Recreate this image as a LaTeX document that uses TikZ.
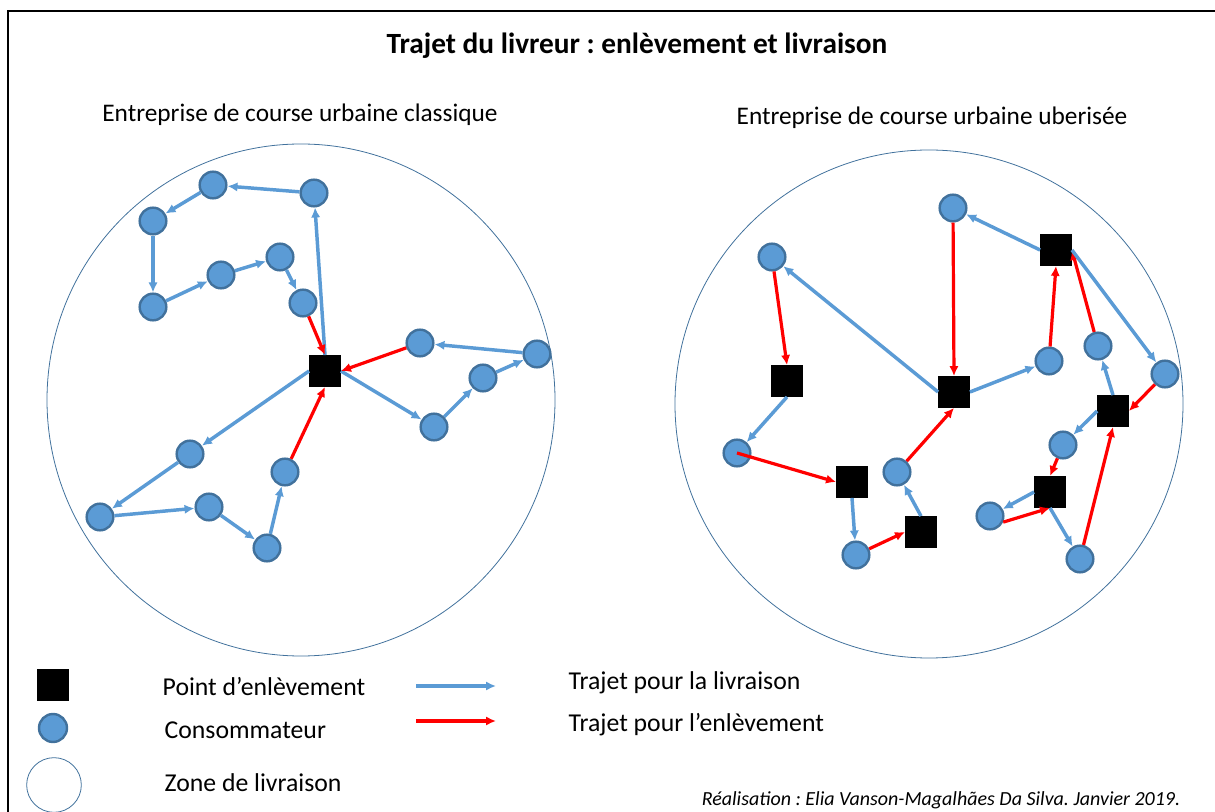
\documentclass[tikz,border=0pt]{standalone}
\usepackage{fontspec}
\setmainfont{Carlito}
\usetikzlibrary{shapes,arrows.meta}
\definecolor{bleu}{HTML}{5B9BD5}
\definecolor{bleufonce}{HTML}{41719C}
\tikzstyle{client} = [circle, draw=bleufonce, fill=bleu, line width=1.8pt,
    minimum size=20pt, inner sep=0pt]
\tikzstyle{depot} = [rectangle, fill=black, minimum size=23.5pt, inner sep=0pt]
\tikzstyle{livr} = [draw, bleu, line width=2.6pt, -{Latex[length=7.5pt,width=7pt]}]
\tikzstyle{enl} = [draw, red, line width=2.4pt, -{Latex[length=7.5pt,width=7pt]}]
\tikzstyle{zone} = [draw=bleufonce, line width=0.6pt]
\tikzstyle{legende} = [anchor=west, font=\fontsize{19.3}{23}\selectfont]
\frenchspacing

\begin{document}
\begin{tikzpicture}[x=0.75pt, y=-0.75pt]
  \useasboundingbox (0,0) rectangle (1215,812);
  \draw [line width=1.5pt] (8,812) -- (8,11) -- (1215,11);
  % titres
  \node [font=\fontsize{22}{26}\selectfont\bfseries] (titre) at (637,46)
    {Trajet du livreur : enlèvement et livraison};
  \node [font=\fontsize{19}{23}\selectfont] (classique) at (300,115)
    {Entreprise de course urbaine classique};
  \node [font=\fontsize{19}{23}\selectfont] (uber) at (932,118)
    {Entreprise de course urbaine uberisée};
  % zones
  \draw [zone] (301,400) ellipse [x radius=190.5pt, y radius=192pt];
  \draw [zone] (929,404) ellipse [x radius=190.5pt, y radius=190.5pt];

  % classique
  \node [depot] (A) at (325,371) {};
  \node [client] (a1) at (213,185) {};
  \node [client] (a2) at (314,193) {};
  \node [client] (a3) at (153,221) {};
  \node [client] (a4) at (153,307) {};
  \node [client] (a5) at (221,275) {};
  \node [client] (a6) at (280,257) {};
  \node [client] (a7) at (303,303) {};
  \node [client] (a8) at (420,343) {};
  \node [client] (a9) at (537,354) {};
  \node [client] (a10) at (483,378) {};
  \node [client] (a11) at (434,427) {};
  \node [client] (a12) at (190,454) {};
  \node [client] (a13) at (100,517) {};
  \node [client] (a14) at (209,507) {};
  \node [client] (a15) at (267,548) {};
  \node [client] (a16) at (285,472) {};
  \path [livr] (A.north) -- (a2);
  \path [livr] (a2) -- (a1);
  \path [livr] (a1) -- (a3);
  \path [livr] (a3) -- (a4);
  \path [livr] (a4) -- (a5);
  \path [livr] (a5) -- (a6);
  \path [livr] (a6) -- (a7);
  \path [enl] (a7) -- (A.north);
  \path [livr] (A.east) -- (a11);
  \path [livr] (a11) -- (a10);
  \path [livr] (a10) -- (a9);
  \path [livr] (a9) -- (a8);
  \path [enl] (a8) -- (A.east);
  \path [livr] (A.west) -- (a12);
  \path [livr] (a12) -- (a13);
  \path [livr] (a13) -- (a14);
  \path [livr] (a14) -- (a15);
  \path [livr] (a15) -- (a16);
  \path [enl] (a16) -- (A.south);

  % uberisee
  \node [depot] (B1) at (787,381) {};
  \node [depot] (B2) at (954,392) {};
  \node [depot] (B3) at (1056,250) {};
  \node [depot] (B4) at (1113,411) {};
  \node [depot] (B5) at (852,482) {};
  \node [depot] (B6) at (921,532) {};
  \node [depot] (B7) at (1050,492) {};
  \node [client] (b1) at (772,257) {};
  \node [client] (b2) at (953,208) {};
  \node [client] (b3) at (737,453) {};
  \node [client] (b4) at (1049,361) {};
  \node [client] (b5) at (1098,346) {};
  \node [client] (b6) at (1165,374) {};
  \node [client] (b7) at (1063,445) {};
  \node [client] (b8) at (897,472) {};
  \node [client] (b9) at (856,555) {};
  \node [client] (b10) at (990,516) {};
  \node [client] (b11) at (1080,559) {};
  \path [enl] (b1) -- (B1.north);
  \path [livr] (B1.south) -- (b3);
  \path [enl] (b3.center) -- (B5.west);
  \path [livr] (B5.south) -- (b9);
  \path [enl] (b9) -- (B6.west);
  \path [livr] (B6.north) -- (b8);
  \path [enl] (b8) -- (B2.south);
  \path [livr] (B2.west) -- (b1);
  \path [enl] (b2) -- (B2.north);
  \path [livr] (B2.east) -- (b4);
  \path [enl] (b4) -- (B3.south);
  \path [livr] (B3.west) -- (b2);
  \path [enl] (b5) -- (B3.east);
  \path [livr] (B3.east) -- (b6);
  \path [enl] (b6) -- (B4.east);
  \path [livr] (B4.north) -- (b5);
  \path [livr] (B4.west) -- (b7);
  \path [enl] (b7) -- (B7.north);
  \path [livr] (B7.west) -- (b10);
  \path [enl] (b10.-25) -- (B7.south);
  \path [livr] (B7.south) -- (b11);
  \path [enl] (b11) -- (B4.south);

  % legende
  \node [depot] (legdepot) at (53,685) {};
  \node [client, minimum width=19pt, minimum height=21pt] (legclient) at (53,728) {};
  \draw [zone] (54,785) circle [radius=20.5pt];
  \node [legende] (txtdepot) at (158,687) {Point d’enlèvement};
  \node [legende] (txtclient) at (160,730) {Consommateur};
  \node [legende] (txtzone) at (160,783) {Zone de livraison};
  \coordinate (la1) at (416,686);
  \coordinate (la2) at (496,686);
  \coordinate (lb1) at (416,721);
  \coordinate (lb2) at (496,721);
  \path [livr, line width=3pt] (la1) -- (la2);
  \path [enl, line width=3pt] (lb1) -- (lb2);
  \node [legende] (txtlivr) at (564,683) {Trajet pour la livraison};
  \node [legende] (txtenl) at (564,725) {Trajet pour l’enlèvement};
  \node [anchor=east, font=\fontsize{15}{18}\selectfont\itshape] (credit) at (1185,800)
    {Réalisation : Elia Vanson-Magalhães Da Silva. Janvier 2019.};
\end{tikzpicture}
\end{document}
